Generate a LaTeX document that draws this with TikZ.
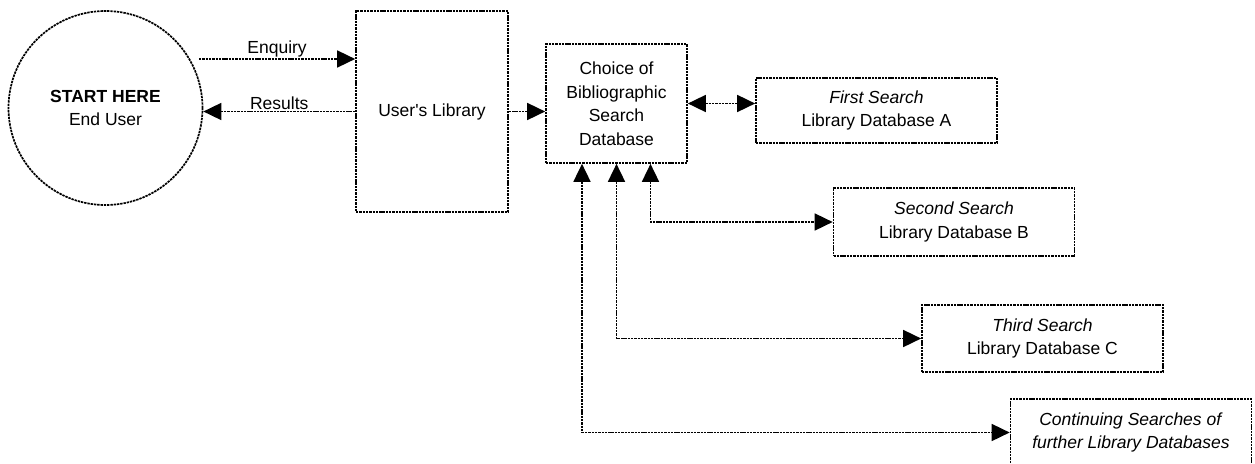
\documentclass[tikz,border=0pt]{standalone}
\usepackage{fontspec}
\setmainfont{Liberation Sans}
\usepackage{tikz}
\usetikzlibrary{arrows.meta, positioning, calc}

\begin{document}
\begin{tikzpicture}[x=1pt, y=-1pt, every node/.style={font=\fontsize{17.5}{23.5}\selectfont}]
		\tikzstyle{dashline}=[line width=1.7pt, dash pattern=on 2.4pt off 0.9pt]
		\tikzstyle{libbox}=[draw=black, dashline, inner sep=0pt, align=center, text=black]
		\tikzstyle{searchbox}=[libbox, minimum width=241pt, minimum height=67pt]
		\tikzstyle{link}=[dashline, {Triangle[length=18pt, width=17pt]}-{Triangle[length=18pt, width=17pt]}]
		\tikzstyle{onelink}=[dashline, -{Triangle[length=18pt, width=17pt]}]
		
		\useasboundingbox (0,0) rectangle (1255,463);
		
		\node (eu) at (105.5,108) [libbox, circle, minimum size=194pt] {\textbf{START HERE}\\End User};
		\node (ul) at (432,111.5) [libbox, minimum width=152pt, minimum height=201pt] {User\textquotesingle s Library};
		\node (ch) at (616.5,103.5) [libbox, minimum width=141pt, minimum height=119pt] {Choice of\\Bibliographic\\Search\\Database};
		
		\node (fa) at (876.5,110.5) [searchbox, minimum height=65pt] {\textit{First Search}\\Library Database A};
		\node (fb) at (954,222) [searchbox, minimum height=68pt] {\textit{Second Search}\\Library Database B};
		\node (fc) at (1042.5,338.5) [searchbox] {\textit{Third Search}\\Library Database C};
		\node (fd) at (1131,432.5) [searchbox] {\textit{Continuing Searches of}\\\textit{further Library Databases}};
		
		\coordinate (eq) at (199,59);
		\draw [onelink] (eq) -- (eq -| ul.west) node [midway, above=-2pt] {Enquiry};
		\draw [onelink] (ul.west) -- (ul.west -| eu.east) node [midway, above=-2pt] {Results};
		
		\draw [onelink] (ul.east) -- (ul.east -| ch.west);
		\draw [link] (ch.east) -- (ch.east -| fa.west);
		
		\draw [link] ([xshift=34pt]ch.south) |- (fb.west);
		\draw [link] (ch.south) |- (fc.west);
		\draw [link] ([xshift=-34.5pt]ch.south) |- (fd.west);
		\end{tikzpicture}
\end{document}
